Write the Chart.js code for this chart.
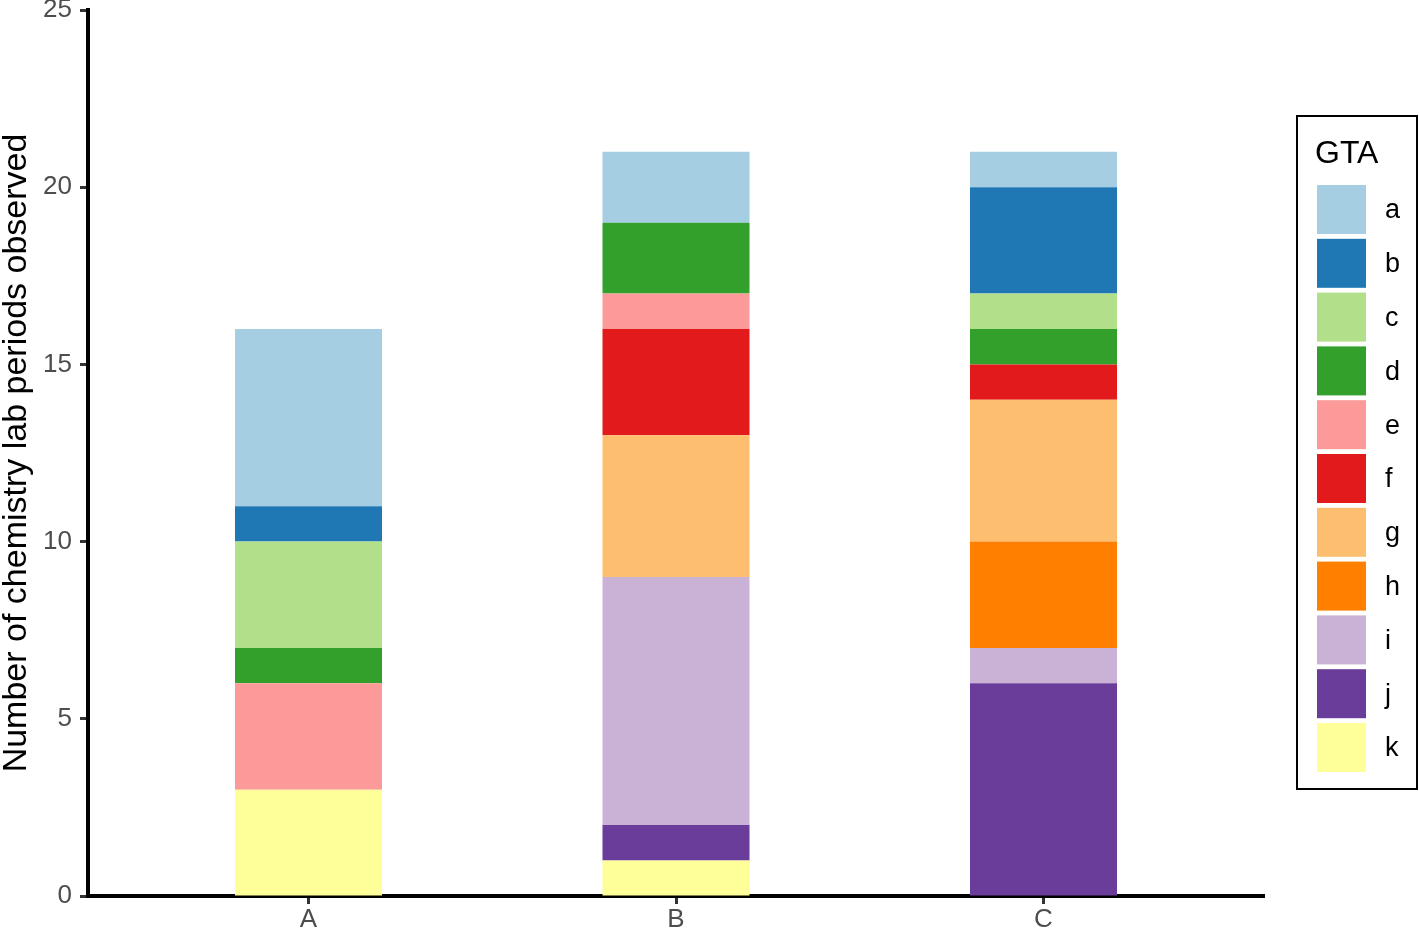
<!DOCTYPE html>
<html>
<head>
<meta charset="utf-8">
<title>Chemistry lab periods by GTA</title>
<script src="https://cdn.jsdelivr.net/npm/chart.js@4.4.1/dist/chart.umd.min.js"></script>
<style>
  html, body { margin: 0; padding: 0; background: #fff; }
  canvas { display: block; }
</style>
</head>
<body>
<canvas id="myChart" width="1419" height="932"></canvas>
<script>
// categories on the x axis
const categorias = ['A', 'B', 'C'];

// GTA series, values per category (A, B, C)
const gtas = ['a', 'b', 'c', 'd', 'e', 'f', 'g', 'h', 'i', 'j', 'k'];
const a = [5, 2, 1];
const b = [1, 0, 3];
const c = [3, 0, 1];
const d = [1, 2, 1];
const e = [3, 1, 0];
const f = [0, 3, 1];
const g = [0, 4, 4];
const h = [0, 0, 3];
const i = [0, 7, 1];
const j = [0, 1, 6];
const k = [3, 1, 0];

const yTicks = [0, 5, 10, 15, 20, 25];

const colores = ['#A6CEE3', '#1F78B4', '#B2DF8A', '#33A02C', '#FB9A99', '#E31A1C',
                 '#FDBF6F', '#FF7F00', '#CAB2D6', '#6A3D9A', '#FFFF99'];
const valores = [a, b, c, d, e, f, g, h, i, j, k];

const fuente = "'Liberation Sans', Arial, Helvetica, sans-serif";

// k at the bottom of the stack, a on top
const datasets = gtas.map((nombre, n) => ({
  label: nombre,
  data: valores[n].map((v, idx) => ({ x: idx + 1, y: v })),
  backgroundColor: colores[n],
  borderWidth: 0,
  categoryPercentage: 1,
  barPercentage: 0.4
})).reverse();

// legend drawn by hand (boxed, ggplot style)
const leyendaGTA = {
  id: 'leyendaGTA',
  afterDraw(chart) {
    const ctx = chart.ctx;
    ctx.save();
    ctx.strokeStyle = '#000';
    ctx.lineWidth = 2;
    ctx.strokeRect(1297, 116, 120, 673);
    ctx.fillStyle = '#000';
    ctx.font = '32px ' + fuente;
    ctx.textBaseline = 'alphabetic';
    ctx.textAlign = 'left';
    ctx.fillText('GTA', 1315, 163);
    ctx.font = '27px ' + fuente;
    ctx.textBaseline = 'middle';
    gtas.forEach((nombre, n) => {
      const top = 185 + n * 53.8;
      ctx.fillStyle = colores[n];
      ctx.fillRect(1317, top, 49, 49);
      ctx.fillStyle = '#000';
      ctx.fillText(nombre, 1385, top + 26);
    });
    ctx.restore();
  }
};

new Chart(document.getElementById('myChart'), {
  type: 'bar',
  data: { datasets: datasets },
  plugins: [leyendaGTA],
  options: {
    responsive: false,
    animation: false,
    devicePixelRatio: 1,
    layout: { padding: { top: 10, right: 155, left: 0, bottom: 0 } },
    plugins: {
      legend: { display: false },
      tooltip: { enabled: false }
    },
    scales: {
      x: {
        type: 'linear',
        stacked: true,
        offset: false,
        min: 0.4,
        max: 3.6,
        afterBuildTicks: (scale) => { scale.ticks = categorias.map((_, n) => ({ value: n + 1 })); },
        afterFit: (scale) => { scale.height = 36; scale.paddingLeft = 0; scale.paddingRight = 0; },
        ticks: {
          callback: (v) => categorias[v - 1],
          color: '#4D4D4D',
          font: { family: fuente, size: 26, lineHeight: 1 },
          padding: 3,
          maxRotation: 0
        },
        grid: { offset: false, drawOnChartArea: false, drawTicks: true, tickLength: 8, tickColor: '#333', tickWidth: 3 },
        border: { display: true, color: '#000', width: 4 }
      },
      y: {
        stacked: true,
        min: 0,
        max: 25,
        afterBuildTicks: (scale) => { scale.ticks = yTicks.map(v => ({ value: v })); },
        afterFit: (scale) => { scale.width = 88; scale.paddingTop = 0; scale.paddingBottom = 0; },
        ticks: {
          color: '#4D4D4D',
          font: { family: fuente, size: 26, lineHeight: 1 },
          padding: 8
        },
        grid: { drawOnChartArea: false, drawTicks: true, tickLength: 8, tickColor: '#333', tickWidth: 3 },
        border: { display: true, color: '#000', width: 4 },
        title: {
          display: true,
          text: 'Number of chemistry lab periods observed',
          color: '#000',
          font: { family: fuente, size: 34, lineHeight: 1 },
          padding: 0
        }
      }
    }
  }
});
</script>
</body>
</html>
